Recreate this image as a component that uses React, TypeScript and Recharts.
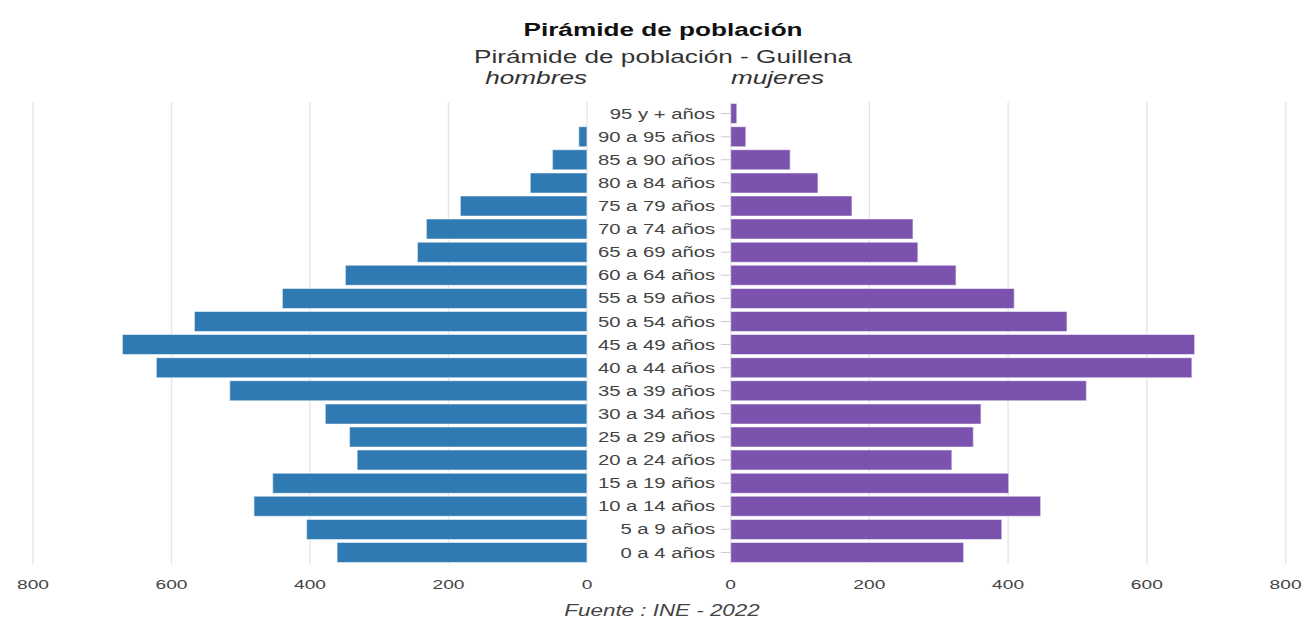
import React from 'react';
import { BarChart, Bar, XAxis, YAxis, CartesianGrid } from 'recharts';

// age groups, top row first
const ageGroups = [
    '95 y + años', '90 a 95 años', '85 a 90 años', '80 a 84 años', '75 a 79 años',
    '70 a 74 años', '65 a 69 años', '60 a 64 años', '55 a 59 años', '50 a 54 años',
    '45 a 49 años', '40 a 44 años', '35 a 39 años', '30 a 34 años', '25 a 29 años',
    '20 a 24 años', '15 a 19 años', '10 a 14 años', '5 a 9 años', '0 a 4 años',
];
const hombres = [0, 12, 50, 82, 183, 232, 245, 349, 440, 567, 671, 622, 516, 378, 343, 332, 454, 481, 405, 361];
const mujeres = [9, 22, 86, 126, 175, 263, 270, 325, 409, 485, 669, 665, 513, 361, 350, 319, 401, 447, 391, 336];
const xTicks = [0, 200, 400, 600, 800];

const data = ageGroups.map((age, i) => ({ age, hombres: hombres[i], mujeres: mujeres[i] }));

// the reference is stretched horizontally, so draw narrow and scale
const SX = 1.4;
const W = 1306 / SX;
const H = 622;
const font = '"Liberation Sans", Arial, sans-serif';

const App = () => {
    const tickStyle = { fill: '#444', fontSize: 13.7, fontFamily: font };
    return (
        <div style={{ position: 'absolute', left: 0, top: 0, width: W, height: H, transform: `scaleX(${SX})`, transformOrigin: '0 0', fontFamily: font }}>
            <div style={{ position: 'absolute', left: 0, top: 0 }}>
                <BarChart width={430} height={H} data={data} layout="vertical"
                    margin={{ top: 102, right: 10.71, bottom: 28, left: 23.57 }} barCategoryGap="7%">
                    <CartesianGrid horizontal={false} stroke="#e6e6e6" />
                    <XAxis type="number" domain={[0, 800]} ticks={xTicks} reversed axisLine={false} tickLine={false}
                        tick={tickStyle} tickMargin={9} height={30} />
                    <YAxis type="category" dataKey="age" hide />
                    <Bar dataKey="hombres" fill="#2f7ab3" stroke="#ffffff" strokeOpacity={0.5} isAnimationActive={false} />
                </BarChart>
            </div>
            <div style={{ position: 'absolute', left: 419.29, top: 0 }}>
                <BarChart width={W - 419.29} height={H} data={data} layout="vertical"
                    margin={{ top: 102, right: 14.28, bottom: 28, left: 0 }} barCategoryGap="7%">
                    <CartesianGrid horizontal={false} stroke="#e6e6e6" />
                    <XAxis type="number" domain={[0, 800]} ticks={xTicks} axisLine={false} tickLine={false}
                        tick={tickStyle} tickMargin={9} height={30} />
                    <YAxis type="category" dataKey="age" width={102.86} axisLine={false} interval={0}
                        tickLine={{ stroke: '#cccccc' }} tickSize={7} tickMargin={4}
                        tick={{ fill: '#444', fontSize: 14.5, fontFamily: font }} />
                    <Bar dataKey="mujeres" fill="#7b52ae" stroke="#ffffff" strokeOpacity={0.5} isAnimationActive={false} />
                </BarChart>
            </div>
            <svg width={W} height={H} style={{ position: 'absolute', left: 0, top: 0, pointerEvents: 'none' }}>
                <text x={473.6} y={36} textAnchor="middle" fontSize={18.7} fontWeight="bold" fill="#111" fontFamily={font}>
                    Pirámide de población
                </text>
                <text x={473.6} y={63} textAnchor="middle" fontSize={18.7} fill="#333" fontFamily={font}>
                    Pirámide de población - Guillena
                </text>
                <text x={419.3} y={84} textAnchor="end" fontSize={18.7} fontStyle="italic" fill="#333" fontFamily={font}>
                    hombres
                </text>
                <text x={522.1} y={84} textAnchor="start" fontSize={18.7} fontStyle="italic" fill="#333" fontFamily={font}>
                    mujeres
                </text>
                <text x={472.9} y={616} textAnchor="middle" fontSize={16} fontStyle="italic" fill="#444" fontFamily={font}>
                    Fuente : INE - 2022
                </text>
            </svg>
        </div>
    );
};

export default App;
